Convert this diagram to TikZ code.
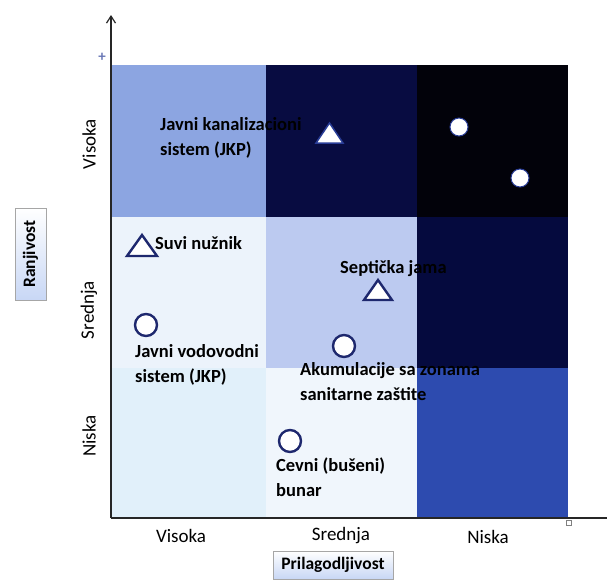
\documentclass[tikz,border=0pt]{standalone}
\usepackage{fontspec}
\setmainfont{Carlito}
\usetikzlibrary{arrows.meta}
\begin{document}
\begin{tikzpicture}[x=1pt,y=-1pt,
  lbl/.style={font=\bfseries\fontsize{18.5}{25}\selectfont, text=black, align=left, inner sep=0pt},
  axl/.style={font=\fontsize{19}{22}\selectfont, text=black, inner sep=0pt},
  mk/.style={draw=navy, line width=2.4pt, fill=white},
  mkdark/.style={draw=navyb, line width=1.5pt, fill=white},
  titlebox/.style={draw=gray!70, line width=0.6pt, top color=white, bottom color=boxblue, font=\bfseries\fontsize{17.5}{20}\selectfont, inner sep=3pt}]
\definecolor{navy}{RGB}{30,40,110}
\definecolor{navyb}{RGB}{40,60,150}
\definecolor{boxblue}{RGB}{200,215,245}
\definecolor{c11}{RGB}{140,165,225}
\definecolor{c12}{RGB}{8,12,65}
\definecolor{c13}{RGB}{2,2,10}
\definecolor{c21}{RGB}{236,243,251}
\definecolor{c22}{RGB}{188,202,240}
\definecolor{c23}{RGB}{5,10,62}
\definecolor{c31}{RGB}{225,240,250}
\definecolor{c32}{RGB}{240,246,252}
\definecolor{c33}{RGB}{45,75,175}
\useasboundingbox (0,0) rectangle (607,579);
\fill[white] (0,0) rectangle (607,579);
% cells
\fill[c11] (111,65) rectangle (266,217);
\fill[c12] (266,65) rectangle (417,217);
\fill[c13] (417,65) rectangle (568,217);
\fill[c21] (111,217) rectangle (266,368);
\fill[c22] (266,217) rectangle (417,368);
\fill[c23] (417,217) rectangle (568,368);
\fill[c31] (111,368) rectangle (266,518);
\fill[c32] (266,368) rectangle (417,518);
\fill[c33] (417,368) rectangle (568,518);
% axes
\coordinate (o) at (111,518);
\coordinate (ytop) at (111,15);
\coordinate (xend) at (607,518);
\draw[line width=1.4pt, black!85] (o) -- (xend);
\draw[line width=1.2pt, black!85, -{Straight Barb[length=7pt,width=9pt]}] (o) -- (ytop);
% handles
\node[text=navyb!70, font=\bfseries\fontsize{15}{15}\selectfont, inner sep=0pt] (plus) at (102,57) {+};
\node[draw=gray, line width=0.6pt, minimum size=5pt, inner sep=0pt] (hsq) at (569,523) {};
% labels in cells
\node[lbl, anchor=north west] (kan) at (160,117) {Javni kanalizacioni\\sistem (JKP)};
\node[lbl, anchor=west] (suvi) at (155,243) {Suvi nužnik};
\node[lbl, anchor=west] (sept) at (340,269) {Septička jama};
\node[lbl, anchor=north west] (vod) at (135,344) {Javni vodovodni\\sistem (JKP)};
\node[lbl, anchor=north west] (aku) at (300,362) {Akumulacije sa zonama\\sanitarne zaštite};
\node[lbl, anchor=north west] (cev) at (276,458) {Cevni (bušeni)\\bunar};
% markers
\draw[mkdark] (316,143) -- (343,143) -- (329.5,123) -- cycle;
\node[circle, fill=white, draw=navyb, line width=1pt, minimum size=18pt, inner sep=0pt] (d1) at (459,127) {};
\node[circle, fill=white, draw=navyb, line width=1pt, minimum size=18pt, inner sep=0pt] (d2) at (520,178) {};
\draw[mk] (127,256) -- (157,256) -- (142,235) -- cycle;
\draw[mk] (364,300) -- (392,300) -- (378,280) -- cycle;
\node[circle, mk, minimum size=22pt, inner sep=0pt] (m1) at (146,325) {};
\node[circle, mk, minimum size=22pt, inner sep=0pt] (m2) at (344,346) {};
\node[circle, mk, minimum size=22pt, inner sep=0pt] (m3) at (290,441) {};
% axis category labels
\node[axl, rotate=90] (yv) at (89,144) {Visoka};
\node[axl, rotate=90] (ys) at (89,310) {Srednja};
\node[axl, rotate=90] (yn) at (89,436) {Niska};
\node[axl] (xv) at (181,536) {Visoka};
\node[axl] (xs) at (341,536) {Srednja};
\node[axl] (xn) at (488,537) {Niska};
% titles
\node[titlebox, rotate=90, minimum width=92pt, minimum height=31pt, shading angle=90, top color=white, bottom color=boxblue] (ranj) at (30.5,254) {Ranjivost};
\node[titlebox, minimum width=120pt, minimum height=28pt] (pril) at (333,565) {Prilagodljivost};
\end{tikzpicture}
\end{document}
